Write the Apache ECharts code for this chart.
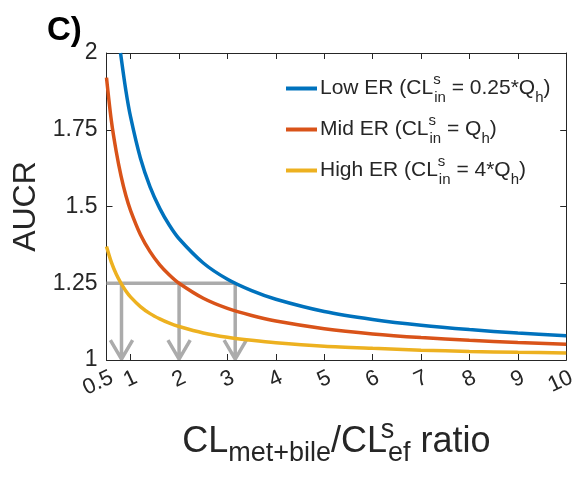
<!DOCTYPE html>
<html>
<head>
<meta charset="utf-8">
<script src="https://cdn.jsdelivr.net/npm/echarts@6/dist/echarts.min.js"></script>
<style>
  html, body { margin: 0; padding: 0; background: #fff; }
  #chart { width: 579px; height: 477px; }
</style>
</head>
<body>
<div id="chart"></div>
<script>
// values
var lowX  = [0.79, 0.9, 1.0, 1.2, 1.4, 1.6, 1.8, 2.0, 2.5, 3, 3.5, 4, 5, 6, 7, 8, 9, 10];
var lowY  = [2.0, 1.878, 1.79, 1.658, 1.564, 1.494, 1.439, 1.395, 1.316, 1.263, 1.226, 1.198, 1.158, 1.132, 1.113, 1.099, 1.088, 1.079];
var midX  = [0.5, 0.6, 0.7, 0.8, 0.9, 1.0, 1.2, 1.4, 1.6, 1.8, 2.0, 2.5, 3, 3.5, 4, 5, 6, 7, 8, 9, 10];
var midY  = [1.92, 1.78, 1.68, 1.60, 1.536, 1.486, 1.409, 1.353, 1.31, 1.277, 1.25, 1.201, 1.168, 1.145, 1.127, 1.102, 1.085, 1.073, 1.064, 1.057, 1.051];
var highX = [0.5, 0.6, 0.7, 0.8, 0.9, 1.0, 1.2, 1.4, 1.6, 1.8, 2.0, 2.5, 3, 3.5, 4, 5, 6, 7, 8, 9, 10];
var highY = [1.37, 1.319, 1.28, 1.25, 1.225, 1.205, 1.174, 1.151, 1.134, 1.12, 1.109, 1.088, 1.074, 1.064, 1.056, 1.045, 1.038, 1.032, 1.028, 1.025, 1.023];
var xTicks = [0.5, 1, 2, 3, 4, 5, 6, 7, 8, 9, 10];
var yTicks = [1, 1.25, 1.5, 1.75, 2];
var cutLevel = 1.25;
var arrowX = [0.81, 2.0, 3.16];

var FONT = '"Liberation Sans", Arial, sans-serif';
var INK = '#262626';
var GRAY = '#ABABAB';

function pairs(xs, ys) {
  return xs.map(function (x, i) { return [x, ys[i]]; });
}

// gray guide: horizontal line then arrows down to the axis
var guide = [[xTicks[0], cutLevel], [arrowX[arrowX.length - 1], cutLevel], null];
arrowX.forEach(function (x) {
  guide.push([x, cutLevel], [x, 1.003], null);
  guide.push([x - 0.23, 1.065], [x, 1.003], [x + 0.23, 1.065], null);
});

var chart = echarts.init(document.getElementById('chart'));

chart.setOption({
  animation: false,
  textStyle: { fontFamily: FONT },
  graphic: [
    { type: 'text', left: 47, top: 14, style: { text: 'C)', font: 'bold 33px ' + FONT, fill: '#000' } },
    { type: 'text', left: 250, top: -24, style: { text: 'met+bile', font: '27px ' + FONT, fill: '#444' } }
  ],
  grid: { left: 106.5, top: 53, width: 461.5, height: 307, containLabel: false },
  legend: {
    orient: 'vertical',
    left: 286,
    top: 72,
    padding: 0,
    itemGap: 8,
    itemWidth: 31,
    itemHeight: 4,
    icon: 'rect',
    data: ['low', 'mid', 'high'],
    formatter: function (name) {
      if (name === 'low') return 'Low ER (CL{sup|s}{sub|in} = 0.25*Q{sub|h})';
      if (name === 'mid') return 'Mid ER (CL{sup|s}{sub|in} = Q{sub|h})';
      return 'High ER (CL{sup|s}{sub|in} = 4*Q{sub|h})';
    },
    textStyle: {
      fontFamily: FONT, fontSize: 21, color: INK, lineHeight: 33, padding: [0, 0, 0, -2],
      rich: {
        sup: { fontFamily: FONT, fontSize: 15, color: INK, verticalAlign: 'top', lineHeight: 15, width: 1 },
        sub: { fontFamily: FONT, fontSize: 15, color: INK, verticalAlign: 'bottom', lineHeight: 15 }
      }
    }
  },
  xAxis: [{
    type: 'value',
    min: 0.5,
    max: 10,
    name: 'CL{sub|met+bile}/CL{sup|s}{sub|ef} ratio',
    nameLocation: 'middle',
    nameGap: 57,
    nameTextStyle: {
      fontFamily: FONT, fontSize: 36, color: INK, lineHeight: 50,
      rich: {
        sup: { fontFamily: FONT, fontSize: 27, color: INK, verticalAlign: 'top', lineHeight: 26, width: 1 },
        sub: { fontFamily: FONT, fontSize: 27, color: INK, verticalAlign: 'bottom', lineHeight: 26 }
      }
    },
    axisLine: { onZero: false, lineStyle: { color: INK, width: 1 } },
    axisTick: { inside: true, length: 6, customValues: xTicks, lineStyle: { color: INK } },
    axisLabel: { customValues: xTicks, rotate: 25, margin: 19, padding: [0, -6, 0, 0], fontSize: 22, color: INK, fontFamily: FONT },
    splitLine: { show: false }
  }, {
    type: 'value',
    position: 'top',
    min: 0.5,
    max: 10,
    axisLine: { onZero: false, lineStyle: { color: INK, width: 1 } },
    axisTick: { inside: true, length: 6, customValues: xTicks, lineStyle: { color: INK } },
    axisLabel: { show: false },
    splitLine: { show: false }
  }],
  yAxis: [{
    type: 'value',
    min: 1,
    max: 2,
    interval: 0.25,
    name: 'AUCR',
    nameLocation: 'middle',
    nameGap: 63,
    nameTextStyle: { fontFamily: FONT, fontSize: 32, color: INK },
    axisLine: { show: true, onZero: false, lineStyle: { color: INK, width: 1 } },
    axisTick: { show: true, inside: true, length: 6, lineStyle: { color: INK } },
    axisLabel: { margin: 9, fontSize: 23, color: INK, fontFamily: FONT },
    splitLine: { show: false }
  }, {
    type: 'value',
    position: 'right',
    min: 1,
    max: 2,
    interval: 0.25,
    axisLine: { show: true, onZero: false, lineStyle: { color: INK, width: 1 } },
    axisTick: { show: true, inside: true, length: 6, lineStyle: { color: INK } },
    axisLabel: { show: false },
    splitLine: { show: false }
  }],
  series: [
    {
      name: 'guide', type: 'line', data: guide, connectNulls: false,
      showSymbol: false, silent: true,
      lineStyle: { color: GRAY, width: 3.5 }, z: 2
    },
    {
      name: 'low', type: 'line', data: pairs(lowX, lowY), smooth: 0.3, showSymbol: false,
      color: '#0072BD', lineStyle: { width: 3.5 }, z: 3
    },
    {
      name: 'mid', type: 'line', data: pairs(midX, midY), smooth: 0.3, showSymbol: false,
      color: '#D95319', lineStyle: { width: 3.5 }, z: 3
    },
    {
      name: 'high', type: 'line', data: pairs(highX, highY), smooth: 0.3, showSymbol: false,
      color: '#EDB120', lineStyle: { width: 3.5 }, z: 3
    }
  ]
});
</script>
</body>
</html>
